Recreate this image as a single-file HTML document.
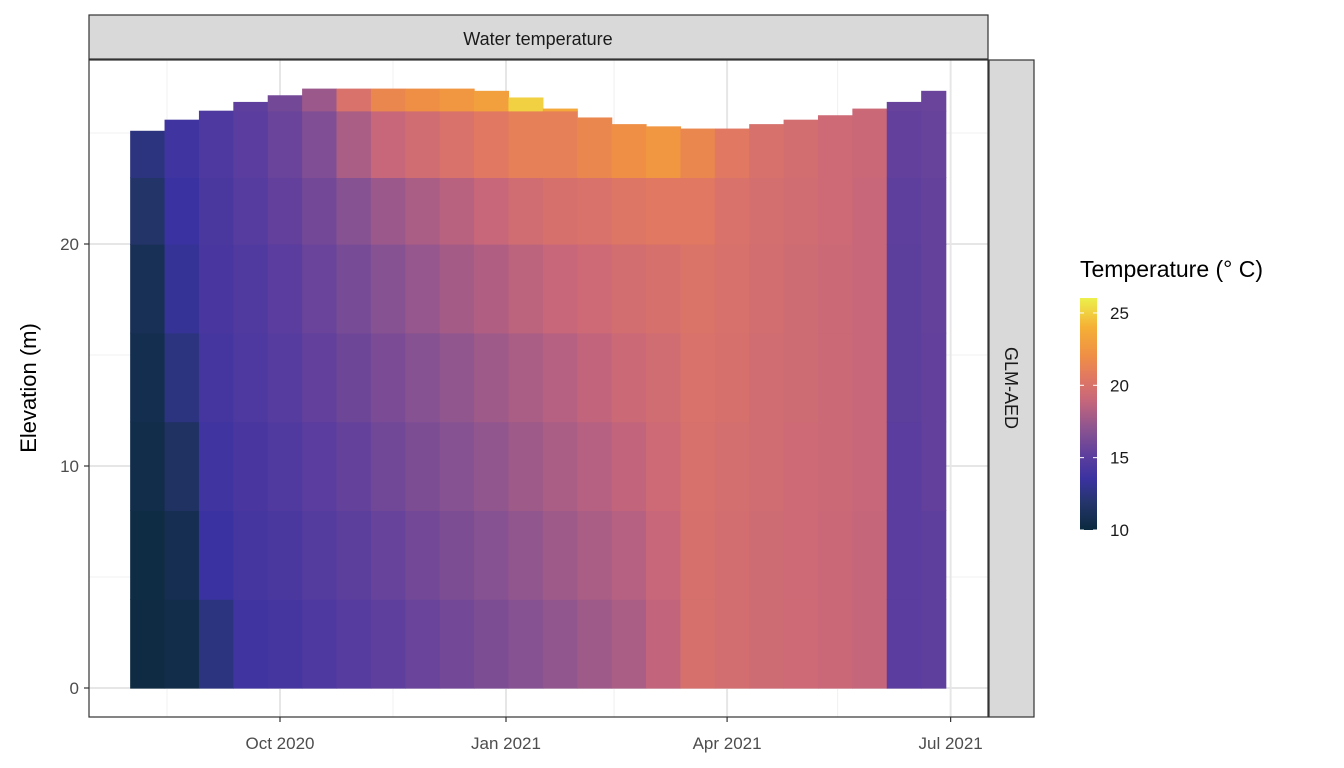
<!DOCTYPE html>
<html><head><meta charset="utf-8"><style>
body{margin:0;background:#fff;}
svg{display:block;font-family:"Liberation Sans",Arial,sans-serif;}
</style></head><body>
<svg id="chart" width="1344" height="768">
<defs><linearGradient id="lg" x1="0" y1="1" x2="0" y2="0"></linearGradient></defs>
<rect x="0" y="0" width="1344" height="768" fill="#fff"/>
<g id="grid"></g>
<g id="cells"></g>
<rect x="89" y="60" width="899" height="657" fill="none" stroke="#333" stroke-width="1.2"/>
<rect x="89" y="15" width="899" height="44" fill="#d9d9d9" stroke="#333" stroke-width="1.2"/>
<text x="538" y="45" font-size="18" fill="#1a1a1a" text-anchor="middle">Water temperature</text>
<rect x="989" y="60" width="45" height="657" fill="#d9d9d9" stroke="#333" stroke-width="1.2"/>
<text transform="translate(1005,388) rotate(90)" font-size="18" fill="#1a1a1a" text-anchor="middle">GLM-AED</text>
<g id="axes"></g>
<text transform="translate(36,388) rotate(-90)" font-size="22" fill="#000" text-anchor="middle">Elevation (m)</text>
<text x="1080" y="277" font-size="23" fill="#000">Temperature (° C)</text>
<rect id="lbar" x="1080" y="298" width="17" height="232" fill="url(#lg)"/>
<g id="legend"></g>
</svg>
<script>
const dates=["2020-08-01","2020-08-15","2020-08-29","2020-09-12","2020-09-26","2020-10-10","2020-10-24","2020-11-07","2020-11-21","2020-12-05","2020-12-19","2021-01-02","2021-01-16","2021-01-30","2021-02-13","2021-02-27","2021-03-13","2021-03-27","2021-04-10","2021-04-24","2021-05-08","2021-05-22","2021-06-05","2021-06-19"];
const endDate="2021-06-29";
const levels=[0,4,8,12,16,20,23,26];
const surface=[25.1,25.6,26.0,26.4,26.7,27,27,27,27,27,26.9,26.6,26.1,25.7,25.4,25.3,25.2,25.2,25.4,25.6,25.8,26.1,26.4,26.9];
const temps=[
[10.2,10.3,10.5,10.7,11,11.8,12.5,13],
[10.5,10.8,11.5,12.5,13.2,13.5,13.8,14],
[12.5,13.5,13.8,14,14.2,14.3,14.4,14.6],
[13.8,14,14.2,14.4,14.6,14.8,15,15.2],
[14,14.3,14.6,14.8,15,15.3,15.6,16],
[14.4,14.7,15,15.3,15.6,16,16.5,17.5],
[14.8,15.1,15.4,15.8,16.2,16.8,18,20],
[15.2,15.5,15.9,16.3,16.8,17.5,19,21.5],
[15.6,16,16.4,16.8,17.3,18,19.5,22],
[16,16.4,16.8,17.2,17.8,18.5,20,22.5],
[16.4,16.8,17.2,17.6,18.2,19,20.5,23],
[16.8,17.2,17.6,18,18.6,19.5,21,25],
[17.2,17.6,18,18.4,19,19.8,21,23.5],
[17.6,18,18.4,18.8,19.3,20,21.5,23],
[18,18.4,18.8,19.2,19.6,20.3,22,24],
[18.8,19,19.3,19.5,19.8,20.5,22.5,24],
[19.8,19.8,19.9,20,20.1,20.5,21.5,23],
[19.6,19.6,19.7,19.8,19.9,20,20.5,21],
[19.4,19.4,19.5,19.5,19.6,19.7,19.9,20.2],
[19.3,19.3,19.3,19.4,19.4,19.5,19.6,19.8],
[19.1,19.1,19.2,19.2,19.2,19.3,19.3,19.4],
[18.9,18.9,19,19,19,19,19.1,19.2],
[15,15,15,15.1,15.1,15.2,15.3,15.5],
[15.2,15.2,15.3,15.3,15.4,15.4,15.5,15.6]];
const xTickLabels=["Oct 2020","Jan 2021","Apr 2021","Jul 2021"];
const xTickDates=["2020-10-01","2021-01-01","2021-04-01","2021-07-01"];
const xMinorDates=["2020-08-16","2020-11-16","2021-02-14","2021-05-16"];
const yTicks=[0,10,20];
const yMinor=[5,15,25];
const legendTicks=[10,15,20,25];
const colorStops=[[10,"#0b2a3e"],[12,"#26356e"],[13.5,"#3a32a0"],[15,"#5a3d9e"],[17,"#8c5490"],[19,"#c8677a"],[20.5,"#e07862"],[22,"#ef8f46"],[24,"#f5b035"],[26,"#ecf04d"]];

const NS="http://www.w3.org/2000/svg";
const t0=Date.UTC(2020,9,1);
function days(d){const p=d.split("-").map(Number);return (Date.UTC(p[0],p[1]-1,p[2])-t0)/864e5;}
function x(d){return 280+days(d)*226/92;}
function y(v){return 688-v*22.2;}
function hex(h){return [1,3,5].map(i=>parseInt(h.substr(i,2),16));}
function color(v){
  if(v<=colorStops[0][0])return colorStops[0][1];
  for(let i=1;i<colorStops.length;i++){if(v<=colorStops[i][0]){const a=hex(colorStops[i-1][1]),b=hex(colorStops[i][1]);const f=(v-colorStops[i-1][0])/(colorStops[i][0]-colorStops[i-1][0]);return "rgb("+a.map((c,k)=>Math.round(c+(b[k]-c)*f)).join(",")+")";}}
  return colorStops[colorStops.length-1][1];
}
function mk(tag,attrs,parent){const e=document.createElementNS(NS,tag);for(const k in attrs)e.setAttribute(k,attrs[k]);parent.appendChild(e);return e;}
const grid=document.getElementById("grid"),cells=document.getElementById("cells"),axes=document.getElementById("axes"),legend=document.getElementById("legend");
xMinorDates.forEach(d=>{const l=mk("line",{x1:x(d),x2:x(d),y1:60,y2:717,stroke:"#f0f0f0","stroke-width":1},grid);});
yMinor.forEach(v=>{const l=mk("line",{x1:89,x2:988,y1:y(v),y2:y(v),stroke:"#f0f0f0","stroke-width":1},grid);});
xTickDates.forEach(d=>{const l=mk("line",{x1:x(d),x2:x(d),y1:60,y2:717,stroke:"#e6e6e6","stroke-width":2},grid);});
yTicks.forEach(v=>{const l=mk("line",{x1:89,x2:988,y1:y(v),y2:y(v),stroke:"#e6e6e6","stroke-width":2},grid);});
dates.forEach((d,i)=>{
  const x0=x(d),x1=x(i+1<dates.length?dates[i+1]:endDate);
  levels.forEach((lv,j)=>{
    const top=j+1<levels.length?Math.min(levels[j+1],surface[i]):surface[i];
    const r=mk("rect",{x:x0,y:y(top),width:x1-x0+0.6,height:y(lv)-y(top)+0.6,fill:color(temps[i][j])},cells);
    
    
  });
});
xTickDates.forEach((d,i)=>{
  const l=mk("line",{x1:x(d),x2:x(d),y1:717,y2:722,stroke:"#333","stroke-width":1.2},axes);
  
  
  const t=mk("text",{x:x(d),y:749,"font-size":17,fill:"#4d4d4d","text-anchor":"middle"},axes);t.textContent=xTickLabels[i];
  
  
});
yTicks.forEach(v=>{
  const l=mk("line",{x1:84,x2:89,y1:y(v),y2:y(v),stroke:"#333","stroke-width":1.2},axes);
  
  
  const t=mk("text",{x:79,y:y(v)+6,"font-size":17,fill:"#4d4d4d","text-anchor":"end"},axes);t.textContent=v;
  
  
});
const lg=document.getElementById("lg");
colorStops.forEach(s=>{mk("stop",{offset:((s[0]-10)/16*100)+"%","stop-color":s[1]},lg);});
function ly(v){return 530-(v-10)*14.47;}
legendTicks.forEach(v=>{
  const a=mk("line",{x1:1080,x2:1084,y1:ly(v),y2:ly(v),stroke:"#fff","stroke-width":1},legend);
  
  
  const b=mk("line",{x1:1093,x2:1097,y1:ly(v),y2:ly(v),stroke:"#fff","stroke-width":1},legend);
  
  
  const t=mk("text",{x:1110,y:ly(v)+6,"font-size":17,fill:"#1a1a1a"},legend);t.textContent=v;
  
  
});
</script>
</body></html>
